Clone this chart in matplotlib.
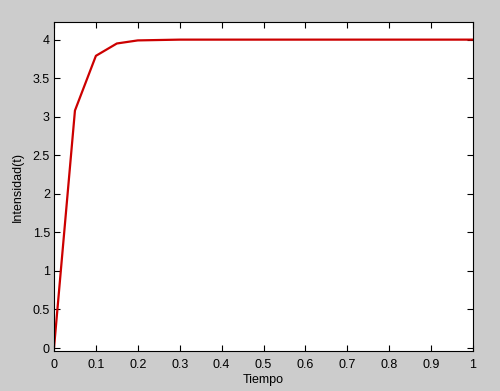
import numpy as np
import matplotlib
matplotlib.use("Agg")
import matplotlib.pyplot as plt

tiempo = [0.0, 0.05, 0.1, 0.15, 0.2, 0.25, 0.3, 0.35, 0.4, 0.45, 0.5,
          0.55, 0.6, 0.65, 0.7, 0.75, 0.8, 0.85, 0.9, 0.95, 1.0]
intensidad = [0.0, 3.08, 3.79, 3.95, 3.99, 3.995, 4.0, 4.0, 4.0, 4.0, 4.0,
              4.0, 4.0, 4.0, 4.0, 4.0, 4.0, 4.0, 4.0, 4.0, 4.0]
xticks = [0, 0.1, 0.2, 0.3, 0.4, 0.5, 0.6, 0.7, 0.8, 0.9, 1]
xticklabels = ["0", "0.1", "0.2", "0.3", "0.4", "0.5", "0.6", "0.7", "0.8", "0.9", "1"]
yticks = [0, 0.5, 1, 1.5, 2, 2.5, 3, 3.5, 4]
yticklabels = ["0", "0.5", "1", "1.5", "2", "2.5", "3", "3.5", "4"]

plt.rcParams["font.family"] = ["Liberation Sans", "DejaVu Sans"]
plt.rcParams["font.size"] = 9

fig = plt.figure(figsize=(5, 3.91), dpi=100, facecolor="#cccccc")
ax = fig.add_axes([0.108, 0.102, 0.838, 0.842])
ax.plot(tiempo, intensidad, color="#cc0000", linewidth=1.6)

ax.set_xlim(0, 1)
ax.set_ylim(-0.04, 4.23)
ax.set_xticks(xticks)
ax.set_xticklabels(xticklabels)
ax.set_yticks(yticks)
ax.set_yticklabels(yticklabels)
ax.tick_params(direction="in", length=4, width=0.8, top=True, right=True,
               colors="black", pad=3)
ax.tick_params(axis="x", pad=6)
for s in ax.spines.values():
    s.set_linewidth(0.8)

ax.set_xlabel("Tiempo", labelpad=2)
ax.set_ylabel("Intensidad(t)", labelpad=6)

fig.savefig("out.png", dpi=100, facecolor=fig.get_facecolor())
